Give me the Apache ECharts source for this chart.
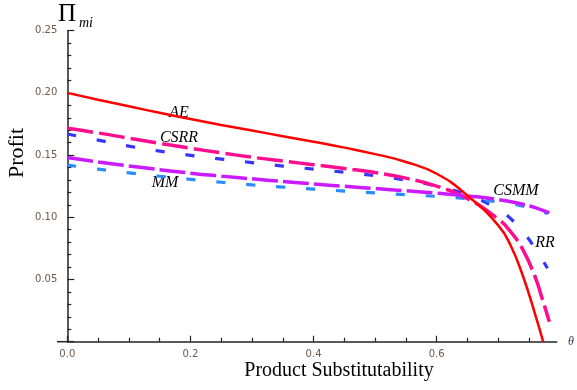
<!DOCTYPE html>
<html>
<head>
<meta charset="utf-8">
<script src="https://cdn.jsdelivr.net/npm/echarts@6/dist/echarts.min.js"></script>
<style>
html,body{margin:0;padding:0;background:#fff;}
#chart{width:577px;height:390px;}
</style>
</head>
<body>
<div id="chart"></div>
<script>
// ---- data ----
const aeTheta   = [0,0.05,0.1,0.15,0.2,0.25,0.3,0.35,0.4,0.45,0.5,0.55,0.6,0.65,0.7,0.72,0.74,0.76,0.773];
const aeProfit  = [0.2000,0.1945,0.1892,0.1840,0.1790,0.1742,0.1697,0.1652,0.1607,0.1560,0.1508,0.1445,0.1350,0.1175,0.0935,0.0775,0.0530,0.0220,0];

const csrrTheta  = [0,0.05,0.1,0.15,0.2,0.25,0.3,0.35,0.4,0.45,0.5,0.55,0.6,0.65,0.7,0.72,0.74,0.76,0.77,0.783];
const csrrProfit = [0.1715,0.1678,0.1636,0.1595,0.1555,0.1518,0.1483,0.1452,0.1423,0.1393,0.1360,0.1315,0.1250,0.1150,0.0985,0.0885,0.0740,0.0520,0.0370,0.0160];

const rrTheta  = [0,0.05,0.1,0.15,0.2,0.25,0.3,0.35,0.4,0.45,0.5,0.55,0.6,0.65,0.7,0.72,0.74,0.76,0.78];
const rrProfit = [0.1670,0.1620,0.1572,0.1532,0.1498,0.1468,0.1440,0.1412,0.1387,0.1362,0.1334,0.1298,0.1250,0.1180,0.1065,0.0990,0.0885,0.0750,0.0590];

const csmmTheta  = [0,0.05,0.1,0.15,0.2,0.25,0.3,0.35,0.4,0.45,0.5,0.55,0.6,0.65,0.7,0.74,0.76,0.783];
const csmmProfit = [0.1480,0.1445,0.1413,0.1383,0.1355,0.1331,0.1309,0.1288,0.1268,0.1249,0.1231,0.1213,0.1194,0.1172,0.1143,0.1105,0.1078,0.1035];

const mmTheta  = [0,0.05,0.1,0.15,0.2,0.25,0.3,0.35,0.4,0.45,0.5,0.55,0.6,0.65,0.7,0.74,0.78];
const mmProfit = [0.1420,0.1387,0.1357,0.1330,0.1305,0.1282,0.1261,0.1243,0.1227,0.1211,0.1196,0.1182,0.1168,0.1150,0.1123,0.1090,0.1030];

const xMajorTicks = [0,0.2,0.4,0.6];
const xMinorTicks = [0.05,0.1,0.15,0.25,0.3,0.35,0.45,0.5,0.55,0.65,0.7,0.75];

const seriesNames = ['AE','CSRR','RR','CSMM','MM'];

// ---- chart ----
const pair = (xs, ys) => xs.map((x, i) => [x, ys[i]]);
const axisColor = '#222';
const tickLabelColor = '#6e5a48';
const serif = '"Liberation Serif","DejaVu Serif",serif';
const GRID = {left: 67.3, right: 20.3, top: 30.7, bottom: 48.3};

const chart = echarts.init(document.getElementById('chart'));
chart.setOption({
  animation: false,
  backgroundColor: '#fff',
  grid: Object.assign({containLabel: false}, GRID),
  xAxis: [{
    type: 'value', min: 0, max: 0.795, position: 'bottom',
    axisLine: {show: true, onZero: false, lineStyle: {color: axisColor, width: 1.5}},
    axisTick: {show: true, inside: true, length: 6, customValues: xMajorTicks, lineStyle: {color: axisColor, width: 1.2}},
    axisLabel: {show: true, customValues: xMajorTicks, formatter: v => v.toFixed(1), color: tickLabelColor, fontSize: 10, fontFamily: '"DejaVu Sans",sans-serif', margin: 8},
    splitLine: {show: false}
  }, {
    type: 'value', min: 0, max: 0.795, position: 'bottom',
    axisLine: {show: false, onZero: false},
    axisTick: {show: true, inside: true, length: 4, customValues: xMinorTicks, lineStyle: {color: axisColor, width: 1.2}},
    axisLabel: {show: false},
    splitLine: {show: false}
  }],
  yAxis: {
    type: 'value', min: 0, max: 0.25, interval: 0.05,
    axisLine: {show: true, onZero: false, lineStyle: {color: axisColor, width: 1.5}},
    axisTick: {show: true, inside: true, length: 7, lineStyle: {color: axisColor, width: 1.2}},
    minorTick: {show: true, splitNumber: 5, length: 4, lineStyle: {color: axisColor, width: 1.2}},
    axisLabel: {showMinLabel: false, formatter: v => v.toFixed(2), color: tickLabelColor, fontSize: 10, fontFamily: '"DejaVu Sans",sans-serif', margin: 10},
    splitLine: {show: false}
  },
  series: [
    {name: seriesNames[2], type: 'line', xAxisIndex: 0, data: pair(rrTheta, rrProfit), smooth: 0.5, showSymbol: false, z: 2,
     lineStyle: {color: '#3636ff', width: 3.2, type: [9, 21]}},
    {name: seriesNames[4], type: 'line', xAxisIndex: 0, data: pair(mmTheta, mmProfit), smooth: 0.5, showSymbol: false, z: 2,
     lineStyle: {color: '#2a8cff', width: 3.2, type: [9, 21]}},
    {name: seriesNames[1], type: 'line', xAxisIndex: 0, data: pair(csrrTheta, csrrProfit), smooth: 0.5, showSymbol: false, z: 3,
     lineStyle: {color: '#ff0d8f', width: 3.5, type: [26, 6]}},
    {name: seriesNames[3], type: 'line', xAxisIndex: 0, data: pair(csmmTheta, csmmProfit), smooth: 0.5, showSymbol: false, z: 3,
     lineStyle: {color: '#cc1aff', width: 3.5, type: [26, 5]}},
    {name: seriesNames[0], type: 'line', xAxisIndex: 0, data: pair(aeTheta, aeProfit), smooth: 0.5, showSymbol: false, z: 4,
     lineStyle: {color: '#ff0000', width: 2.5, type: 'solid'}}
  ],
  graphic: [
    // short extension of the horizontal axis line to the left of the origin
    {type: 'line', shape: {x1: 57, y1: 390 - GRID.bottom, x2: GRID.left, y2: 390 - GRID.bottom}, style: {stroke: axisColor, lineWidth: 1.5}},
    {type: 'text', x: 58, y: 2, style: {text: 'Π', font: '25px ' + serif, fill: '#000'}},
    {type: 'text', x: 79, y: 16, style: {text: 'mi', font: 'italic 14px ' + serif, fill: '#000'}},
    {type: 'text', x: 17, y: 153, rotation: Math.PI / 2, style: {text: 'Profit', font: '22px ' + serif, fill: '#000', align: 'center', verticalAlign: 'middle'}},
    {type: 'text', x: 339, y: 371, style: {text: 'Product Substitutability', font: '20px ' + serif, fill: '#000', align: 'center', verticalAlign: 'middle'}},
    {type: 'text', x: 571, y: 342, style: {text: 'θ', font: 'italic 12px ' + serif, fill: '#33334d', align: 'center', verticalAlign: 'middle'}},
    {type: 'text', x: 179, y: 112.5, style: {text: seriesNames[0], font: 'italic 16px ' + serif, fill: '#000', align: 'center', verticalAlign: 'middle'}},
    {type: 'text', x: 179, y: 137.5, style: {text: seriesNames[1], font: 'italic 16px ' + serif, fill: '#000', align: 'center', verticalAlign: 'middle'}},
    {type: 'text', x: 165, y: 183, style: {text: seriesNames[4], font: 'italic 16px ' + serif, fill: '#000', align: 'center', verticalAlign: 'middle'}},
    {type: 'text', x: 516, y: 191, style: {text: seriesNames[3], font: 'italic 16px ' + serif, fill: '#000', align: 'center', verticalAlign: 'middle'}},
    {type: 'text', x: 545, y: 242.5, style: {text: seriesNames[2], font: 'italic 16px ' + serif, fill: '#000', align: 'center', verticalAlign: 'middle'}}
  ]
});
</script>
</body>
</html>
